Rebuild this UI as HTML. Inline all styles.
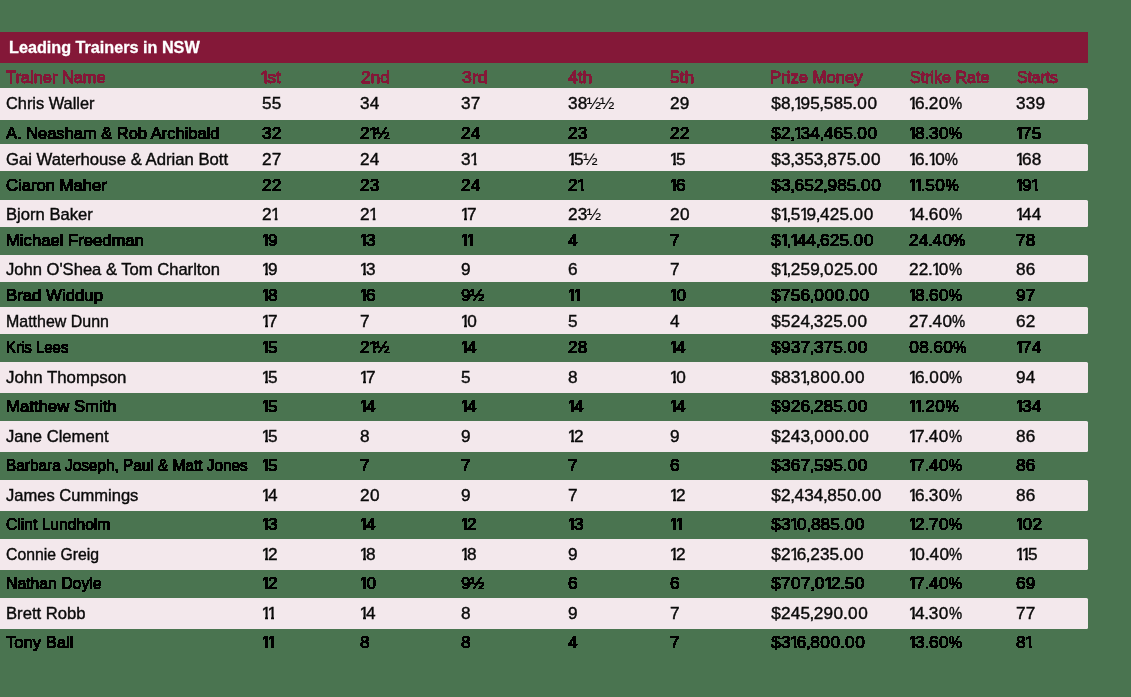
<!DOCTYPE html>
<html><head><meta charset="utf-8"><title>Leading Trainers in NSW</title>
<style>
html,body{margin:0;padding:0;}
body{width:1131px;height:697px;background:#4a7450;position:relative;overflow:hidden;font-family:"Liberation Sans",sans-serif;}
.bar{position:absolute;left:0;top:32px;width:1088px;height:31px;background:#841838;}
.title{position:absolute;left:8.6px;will-change:transform;top:32px;height:31px;line-height:31px;color:#fff;font-weight:bold;font-size:16.2px;-webkit-text-stroke:0.3px #fff;white-space:nowrap;}
.p{position:absolute;left:0;width:1088px;background:#f3e8ec;border-radius:0 1.5px 1.5px 0;}
.t{position:absolute;white-space:nowrap;font-size:16.4px;line-height:20px;height:20px;color:#0a0a0a;-webkit-text-stroke:0.4px #0a0a0a;will-change:transform;}
#thr .t{will-change:auto;}
.t i{display:inline-block;font-style:normal;}
.t i b{display:inline-block;font-weight:inherit;transform:scaleX(0.86);}
.t i u{display:inline-block;text-decoration:none;clip-path:polygon(0 0,0.384em 0,0.384em 20px,0.213em 20px,0.213em 10.8px,0 10.8px);}
.h{color:#841838;-webkit-text-stroke:1.0px #841838;}
.g{color:#000;-webkit-text-stroke:1.0px #000;}
.t em{font-style:normal;-webkit-text-stroke:0.1px #0a0a0a;}
.s{display:inline-block;transform-origin:0 50%;}
#thr{position:absolute;left:0;top:0;width:1131px;height:697px;filter:url(#f);}
</style></head><body>
<div class="bar"></div><div class="title">Leading Trainers in NSW</div>
<div class="p" style="top:88px;height:32px"></div>
<div class="p" style="top:144px;height:27px"></div>
<div class="p" style="top:200px;height:27px"></div>
<div class="p" style="top:255px;height:27px"></div>
<div class="p" style="top:307px;height:27px"></div>
<div class="p" style="top:362px;height:31px"></div>
<div class="p" style="top:421px;height:31px"></div>
<div class="p" style="top:480px;height:31px"></div>
<div class="p" style="top:539px;height:31px"></div>
<div class="p" style="top:598px;height:31px"></div>
<div class="t" id="c0_0" style="left:6.00px;top:93px"><span class="s" style="transform:scaleX(0.9978)">Chris Waller</span></div>
<div class="t" id="c0_1" style="left:262.00px;top:93px"><span class="s" style="transform:scaleX(1.0500)"><i style="margin:0 0.06px 0 0.06px">5</i><i style="margin:0 0.06px 0 0.06px">5</i></span></div>
<div class="t" id="c0_2" style="left:360.00px;top:93px"><span class="s" style="transform:scaleX(1.0500)"><i style="margin:0 0.06px 0 0.06px">3</i><i style="margin:0 0.06px 0 0.06px">4</i></span></div>
<div class="t" id="c0_3" style="left:461.00px;top:93px"><span class="s" style="transform:scaleX(1.0500)"><i style="margin:0 0.06px 0 0.06px">3</i><i style="margin:0 0.06px 0 0.06px">7</i></span></div>
<div class="t" id="c0_4" style="left:568.00px;top:93px"><span class="s" style="transform:scaleX(1.0500)"><i style="margin:0 0.06px 0 0.06px">3</i><i style="margin:0 0.06px 0 0.06px">8</i><i style="margin:0 -0.55px 0 -0.55px"><em>½</em></i><i style="margin:0 -0.55px 0 -0.55px"><em>½</em></i></span></div>
<div class="t" id="c0_5" style="left:670.00px;top:93px"><span class="s" style="transform:scaleX(1.0500)"><i style="margin:0 0.06px 0 0.06px">2</i><i style="margin:0 0.06px 0 0.06px">9</i></span></div>
<div class="t" id="c0_6" style="left:771.00px;top:93px"><span class="s" style="transform:scaleX(1.0500)"><i style="margin:0 0.20px 0 0.20px">$</i><i style="margin:0 0.06px 0 0.06px">8</i><i style="margin:0 -0.47px 0 -0.47px">,</i><i style="margin:0 -2.81px 0 -0.60px"><u>1</u></i><i style="margin:0 0.06px 0 0.06px">9</i><i style="margin:0 0.06px 0 0.06px">5</i><i style="margin:0 -0.47px 0 -0.47px">,</i><i style="margin:0 0.06px 0 0.06px">5</i><i style="margin:0 0.06px 0 0.06px">8</i><i style="margin:0 0.06px 0 0.06px">5</i><i style="margin:0 -0.33px 0 -0.33px">.</i><i style="margin:0 0.34px 0 0.34px">0</i><i style="margin:0 0.34px 0 0.34px">0</i></span></div>
<div class="t" id="c0_7" style="left:909.00px;top:93px"><span class="s" style="transform:scaleX(1.0500)"><i style="margin:0 -2.81px 0 -0.60px"><u>1</u></i><i style="margin:0 0.06px 0 0.06px">6</i><i style="margin:0 -0.33px 0 -0.33px">.</i><i style="margin:0 0.06px 0 0.06px">2</i><i style="margin:0 0.34px 0 0.34px">0</i><i style="margin:0 -1.29px 0 -1.29px"><b>%</b></i></span></div>
<div class="t" id="c0_8" style="left:1016.00px;top:93px"><span class="s" style="transform:scaleX(1.0500)"><i style="margin:0 0.06px 0 0.06px">3</i><i style="margin:0 0.06px 0 0.06px">3</i><i style="margin:0 0.06px 0 0.06px">9</i></span></div>
<div class="t" id="c2_0" style="left:6.00px;top:149px"><span class="s" style="transform:scaleX(1.0185)">Gai Waterhouse &amp; Adrian Bott</span></div>
<div class="t" id="c2_1" style="left:262.00px;top:149px"><span class="s" style="transform:scaleX(1.0500)"><i style="margin:0 0.06px 0 0.06px">2</i><i style="margin:0 0.06px 0 0.06px">7</i></span></div>
<div class="t" id="c2_2" style="left:360.00px;top:149px"><span class="s" style="transform:scaleX(1.0500)"><i style="margin:0 0.06px 0 0.06px">2</i><i style="margin:0 0.06px 0 0.06px">4</i></span></div>
<div class="t" id="c2_3" style="left:461.00px;top:149px"><span class="s" style="transform:scaleX(1.0500)"><i style="margin:0 0.06px 0 0.06px">3</i><i style="margin:0 -2.81px 0 -0.60px"><u>1</u></i></span></div>
<div class="t" id="c2_4" style="left:568.00px;top:149px"><span class="s" style="transform:scaleX(1.0500)"><i style="margin:0 -2.81px 0 -0.60px"><u>1</u></i><i style="margin:0 0.06px 0 0.06px">5</i><i style="margin:0 -0.55px 0 -0.55px"><em>½</em></i></span></div>
<div class="t" id="c2_5" style="left:670.00px;top:149px"><span class="s" style="transform:scaleX(1.0500)"><i style="margin:0 -2.81px 0 -0.60px"><u>1</u></i><i style="margin:0 0.06px 0 0.06px">5</i></span></div>
<div class="t" id="c2_6" style="left:771.00px;top:149px"><span class="s" style="transform:scaleX(1.0500)"><i style="margin:0 0.20px 0 0.20px">$</i><i style="margin:0 0.06px 0 0.06px">3</i><i style="margin:0 -0.47px 0 -0.47px">,</i><i style="margin:0 0.06px 0 0.06px">3</i><i style="margin:0 0.06px 0 0.06px">5</i><i style="margin:0 0.06px 0 0.06px">3</i><i style="margin:0 -0.47px 0 -0.47px">,</i><i style="margin:0 0.06px 0 0.06px">8</i><i style="margin:0 0.06px 0 0.06px">7</i><i style="margin:0 0.06px 0 0.06px">5</i><i style="margin:0 -0.33px 0 -0.33px">.</i><i style="margin:0 0.34px 0 0.34px">0</i><i style="margin:0 0.34px 0 0.34px">0</i></span></div>
<div class="t" id="c2_7" style="left:909.00px;top:149px"><span class="s" style="transform:scaleX(1.0500)"><i style="margin:0 -2.81px 0 -0.60px"><u>1</u></i><i style="margin:0 0.06px 0 0.06px">6</i><i style="margin:0 -0.33px 0 -0.33px">.</i><i style="margin:0 -2.81px 0 -0.60px"><u>1</u></i><i style="margin:0 0.34px 0 0.34px">0</i><i style="margin:0 -1.29px 0 -1.29px"><b>%</b></i></span></div>
<div class="t" id="c2_8" style="left:1016.00px;top:149px"><span class="s" style="transform:scaleX(1.0500)"><i style="margin:0 -2.81px 0 -0.60px"><u>1</u></i><i style="margin:0 0.06px 0 0.06px">6</i><i style="margin:0 0.06px 0 0.06px">8</i></span></div>
<div class="t" id="c4_0" style="left:6.00px;top:204px"><span class="s" style="transform:scaleX(1.0141)">Bjorn Baker</span></div>
<div class="t" id="c4_1" style="left:262.00px;top:204px"><span class="s" style="transform:scaleX(1.0500)"><i style="margin:0 0.06px 0 0.06px">2</i><i style="margin:0 -2.81px 0 -0.60px"><u>1</u></i></span></div>
<div class="t" id="c4_2" style="left:360.00px;top:204px"><span class="s" style="transform:scaleX(1.0500)"><i style="margin:0 0.06px 0 0.06px">2</i><i style="margin:0 -2.81px 0 -0.60px"><u>1</u></i></span></div>
<div class="t" id="c4_3" style="left:461.00px;top:204px"><span class="s" style="transform:scaleX(1.0500)"><i style="margin:0 -2.81px 0 -0.60px"><u>1</u></i><i style="margin:0 0.06px 0 0.06px">7</i></span></div>
<div class="t" id="c4_4" style="left:568.00px;top:204px"><span class="s" style="transform:scaleX(1.0500)"><i style="margin:0 0.06px 0 0.06px">2</i><i style="margin:0 0.06px 0 0.06px">3</i><i style="margin:0 -0.55px 0 -0.55px"><em>½</em></i></span></div>
<div class="t" id="c4_5" style="left:670.00px;top:204px"><span class="s" style="transform:scaleX(1.0500)"><i style="margin:0 0.06px 0 0.06px">2</i><i style="margin:0 0.34px 0 0.34px">0</i></span></div>
<div class="t" id="c4_6" style="left:771.00px;top:204px"><span class="s" style="transform:scaleX(1.0500)"><i style="margin:0 0.20px 0 0.20px">$</i><i style="margin:0 -2.81px 0 -0.60px"><u>1</u></i><i style="margin:0 -0.47px 0 -0.47px">,</i><i style="margin:0 0.06px 0 0.06px">5</i><i style="margin:0 -2.81px 0 -0.60px"><u>1</u></i><i style="margin:0 0.06px 0 0.06px">9</i><i style="margin:0 -0.47px 0 -0.47px">,</i><i style="margin:0 0.06px 0 0.06px">4</i><i style="margin:0 0.06px 0 0.06px">2</i><i style="margin:0 0.06px 0 0.06px">5</i><i style="margin:0 -0.33px 0 -0.33px">.</i><i style="margin:0 0.34px 0 0.34px">0</i><i style="margin:0 0.34px 0 0.34px">0</i></span></div>
<div class="t" id="c4_7" style="left:909.00px;top:204px"><span class="s" style="transform:scaleX(1.0500)"><i style="margin:0 -2.81px 0 -0.60px"><u>1</u></i><i style="margin:0 0.06px 0 0.06px">4</i><i style="margin:0 -0.33px 0 -0.33px">.</i><i style="margin:0 0.06px 0 0.06px">6</i><i style="margin:0 0.34px 0 0.34px">0</i><i style="margin:0 -1.29px 0 -1.29px"><b>%</b></i></span></div>
<div class="t" id="c4_8" style="left:1016.00px;top:204px"><span class="s" style="transform:scaleX(1.0500)"><i style="margin:0 -2.81px 0 -0.60px"><u>1</u></i><i style="margin:0 0.06px 0 0.06px">4</i><i style="margin:0 0.06px 0 0.06px">4</i></span></div>
<div class="t" id="c6_0" style="left:6.00px;top:259px"><span class="s" style="transform:scaleX(1.0113)">John O'Shea &amp; Tom Charlton</span></div>
<div class="t" id="c6_1" style="left:262.00px;top:259px"><span class="s" style="transform:scaleX(1.0500)"><i style="margin:0 -2.81px 0 -0.60px"><u>1</u></i><i style="margin:0 0.06px 0 0.06px">9</i></span></div>
<div class="t" id="c6_2" style="left:360.00px;top:259px"><span class="s" style="transform:scaleX(1.0500)"><i style="margin:0 -2.81px 0 -0.60px"><u>1</u></i><i style="margin:0 0.06px 0 0.06px">3</i></span></div>
<div class="t" id="c6_3" style="left:461.00px;top:259px"><span class="s" style="transform:scaleX(1.0500)"><i style="margin:0 0.06px 0 0.06px">9</i></span></div>
<div class="t" id="c6_4" style="left:568.00px;top:259px"><span class="s" style="transform:scaleX(1.0500)"><i style="margin:0 0.06px 0 0.06px">6</i></span></div>
<div class="t" id="c6_5" style="left:670.00px;top:259px"><span class="s" style="transform:scaleX(1.0500)"><i style="margin:0 0.06px 0 0.06px">7</i></span></div>
<div class="t" id="c6_6" style="left:771.00px;top:259px"><span class="s" style="transform:scaleX(1.0500)"><i style="margin:0 0.20px 0 0.20px">$</i><i style="margin:0 -2.81px 0 -0.60px"><u>1</u></i><i style="margin:0 -0.47px 0 -0.47px">,</i><i style="margin:0 0.06px 0 0.06px">2</i><i style="margin:0 0.06px 0 0.06px">5</i><i style="margin:0 0.06px 0 0.06px">9</i><i style="margin:0 -0.47px 0 -0.47px">,</i><i style="margin:0 0.34px 0 0.34px">0</i><i style="margin:0 0.06px 0 0.06px">2</i><i style="margin:0 0.06px 0 0.06px">5</i><i style="margin:0 -0.33px 0 -0.33px">.</i><i style="margin:0 0.34px 0 0.34px">0</i><i style="margin:0 0.34px 0 0.34px">0</i></span></div>
<div class="t" id="c6_7" style="left:909.00px;top:259px"><span class="s" style="transform:scaleX(1.0500)"><i style="margin:0 0.06px 0 0.06px">2</i><i style="margin:0 0.06px 0 0.06px">2</i><i style="margin:0 -0.33px 0 -0.33px">.</i><i style="margin:0 -2.81px 0 -0.60px"><u>1</u></i><i style="margin:0 0.34px 0 0.34px">0</i><i style="margin:0 -1.29px 0 -1.29px"><b>%</b></i></span></div>
<div class="t" id="c6_8" style="left:1016.00px;top:259px"><span class="s" style="transform:scaleX(1.0500)"><i style="margin:0 0.06px 0 0.06px">8</i><i style="margin:0 0.06px 0 0.06px">6</i></span></div>
<div class="t" id="c8_0" style="left:6.00px;top:311px"><span class="s" style="transform:scaleX(0.9734)">Matthew Dunn</span></div>
<div class="t" id="c8_1" style="left:262.00px;top:311px"><span class="s" style="transform:scaleX(1.0500)"><i style="margin:0 -2.81px 0 -0.60px"><u>1</u></i><i style="margin:0 0.06px 0 0.06px">7</i></span></div>
<div class="t" id="c8_2" style="left:360.00px;top:311px"><span class="s" style="transform:scaleX(1.0500)"><i style="margin:0 0.06px 0 0.06px">7</i></span></div>
<div class="t" id="c8_3" style="left:461.00px;top:311px"><span class="s" style="transform:scaleX(1.0500)"><i style="margin:0 -2.81px 0 -0.60px"><u>1</u></i><i style="margin:0 0.34px 0 0.34px">0</i></span></div>
<div class="t" id="c8_4" style="left:568.00px;top:311px"><span class="s" style="transform:scaleX(1.0500)"><i style="margin:0 0.06px 0 0.06px">5</i></span></div>
<div class="t" id="c8_5" style="left:670.00px;top:311px"><span class="s" style="transform:scaleX(1.0500)"><i style="margin:0 0.06px 0 0.06px">4</i></span></div>
<div class="t" id="c8_6" style="left:771.00px;top:311px"><span class="s" style="transform:scaleX(1.0500)"><i style="margin:0 0.20px 0 0.20px">$</i><i style="margin:0 0.06px 0 0.06px">5</i><i style="margin:0 0.06px 0 0.06px">2</i><i style="margin:0 0.06px 0 0.06px">4</i><i style="margin:0 -0.47px 0 -0.47px">,</i><i style="margin:0 0.06px 0 0.06px">3</i><i style="margin:0 0.06px 0 0.06px">2</i><i style="margin:0 0.06px 0 0.06px">5</i><i style="margin:0 -0.33px 0 -0.33px">.</i><i style="margin:0 0.34px 0 0.34px">0</i><i style="margin:0 0.34px 0 0.34px">0</i></span></div>
<div class="t" id="c8_7" style="left:909.00px;top:311px"><span class="s" style="transform:scaleX(1.0500)"><i style="margin:0 0.06px 0 0.06px">2</i><i style="margin:0 0.06px 0 0.06px">7</i><i style="margin:0 -0.33px 0 -0.33px">.</i><i style="margin:0 0.06px 0 0.06px">4</i><i style="margin:0 0.34px 0 0.34px">0</i><i style="margin:0 -1.29px 0 -1.29px"><b>%</b></i></span></div>
<div class="t" id="c8_8" style="left:1016.00px;top:311px"><span class="s" style="transform:scaleX(1.0500)"><i style="margin:0 0.06px 0 0.06px">6</i><i style="margin:0 0.06px 0 0.06px">2</i></span></div>
<div class="t" id="c10_0" style="left:6.00px;top:367px"><span class="s" style="transform:scaleX(1.0276)">John Thompson</span></div>
<div class="t" id="c10_1" style="left:262.00px;top:367px"><span class="s" style="transform:scaleX(1.0500)"><i style="margin:0 -2.81px 0 -0.60px"><u>1</u></i><i style="margin:0 0.06px 0 0.06px">5</i></span></div>
<div class="t" id="c10_2" style="left:360.00px;top:367px"><span class="s" style="transform:scaleX(1.0500)"><i style="margin:0 -2.81px 0 -0.60px"><u>1</u></i><i style="margin:0 0.06px 0 0.06px">7</i></span></div>
<div class="t" id="c10_3" style="left:461.00px;top:367px"><span class="s" style="transform:scaleX(1.0500)"><i style="margin:0 0.06px 0 0.06px">5</i></span></div>
<div class="t" id="c10_4" style="left:568.00px;top:367px"><span class="s" style="transform:scaleX(1.0500)"><i style="margin:0 0.06px 0 0.06px">8</i></span></div>
<div class="t" id="c10_5" style="left:670.00px;top:367px"><span class="s" style="transform:scaleX(1.0500)"><i style="margin:0 -2.81px 0 -0.60px"><u>1</u></i><i style="margin:0 0.34px 0 0.34px">0</i></span></div>
<div class="t" id="c10_6" style="left:771.00px;top:367px"><span class="s" style="transform:scaleX(1.0500)"><i style="margin:0 0.20px 0 0.20px">$</i><i style="margin:0 0.06px 0 0.06px">8</i><i style="margin:0 0.06px 0 0.06px">3</i><i style="margin:0 -2.81px 0 -0.60px"><u>1</u></i><i style="margin:0 -0.47px 0 -0.47px">,</i><i style="margin:0 0.06px 0 0.06px">8</i><i style="margin:0 0.34px 0 0.34px">0</i><i style="margin:0 0.34px 0 0.34px">0</i><i style="margin:0 -0.33px 0 -0.33px">.</i><i style="margin:0 0.34px 0 0.34px">0</i><i style="margin:0 0.34px 0 0.34px">0</i></span></div>
<div class="t" id="c10_7" style="left:909.00px;top:367px"><span class="s" style="transform:scaleX(1.0500)"><i style="margin:0 -2.81px 0 -0.60px"><u>1</u></i><i style="margin:0 0.06px 0 0.06px">6</i><i style="margin:0 -0.33px 0 -0.33px">.</i><i style="margin:0 0.34px 0 0.34px">0</i><i style="margin:0 0.34px 0 0.34px">0</i><i style="margin:0 -1.29px 0 -1.29px"><b>%</b></i></span></div>
<div class="t" id="c10_8" style="left:1016.00px;top:367px"><span class="s" style="transform:scaleX(1.0500)"><i style="margin:0 0.06px 0 0.06px">9</i><i style="margin:0 0.06px 0 0.06px">4</i></span></div>
<div class="t" id="c12_0" style="left:6.00px;top:426px"><span class="s" style="transform:scaleX(1.0139)">Jane Clement</span></div>
<div class="t" id="c12_1" style="left:262.00px;top:426px"><span class="s" style="transform:scaleX(1.0500)"><i style="margin:0 -2.81px 0 -0.60px"><u>1</u></i><i style="margin:0 0.06px 0 0.06px">5</i></span></div>
<div class="t" id="c12_2" style="left:360.00px;top:426px"><span class="s" style="transform:scaleX(1.0500)"><i style="margin:0 0.06px 0 0.06px">8</i></span></div>
<div class="t" id="c12_3" style="left:461.00px;top:426px"><span class="s" style="transform:scaleX(1.0500)"><i style="margin:0 0.06px 0 0.06px">9</i></span></div>
<div class="t" id="c12_4" style="left:568.00px;top:426px"><span class="s" style="transform:scaleX(1.0500)"><i style="margin:0 -2.81px 0 -0.60px"><u>1</u></i><i style="margin:0 0.06px 0 0.06px">2</i></span></div>
<div class="t" id="c12_5" style="left:670.00px;top:426px"><span class="s" style="transform:scaleX(1.0500)"><i style="margin:0 0.06px 0 0.06px">9</i></span></div>
<div class="t" id="c12_6" style="left:771.00px;top:426px"><span class="s" style="transform:scaleX(1.0500)"><i style="margin:0 0.20px 0 0.20px">$</i><i style="margin:0 0.06px 0 0.06px">2</i><i style="margin:0 0.06px 0 0.06px">4</i><i style="margin:0 0.06px 0 0.06px">3</i><i style="margin:0 -0.47px 0 -0.47px">,</i><i style="margin:0 0.34px 0 0.34px">0</i><i style="margin:0 0.34px 0 0.34px">0</i><i style="margin:0 0.34px 0 0.34px">0</i><i style="margin:0 -0.33px 0 -0.33px">.</i><i style="margin:0 0.34px 0 0.34px">0</i><i style="margin:0 0.34px 0 0.34px">0</i></span></div>
<div class="t" id="c12_7" style="left:909.00px;top:426px"><span class="s" style="transform:scaleX(1.0500)"><i style="margin:0 -2.81px 0 -0.60px"><u>1</u></i><i style="margin:0 0.06px 0 0.06px">7</i><i style="margin:0 -0.33px 0 -0.33px">.</i><i style="margin:0 0.06px 0 0.06px">4</i><i style="margin:0 0.34px 0 0.34px">0</i><i style="margin:0 -1.29px 0 -1.29px"><b>%</b></i></span></div>
<div class="t" id="c12_8" style="left:1016.00px;top:426px"><span class="s" style="transform:scaleX(1.0500)"><i style="margin:0 0.06px 0 0.06px">8</i><i style="margin:0 0.06px 0 0.06px">6</i></span></div>
<div class="t" id="c14_0" style="left:6.00px;top:485px"><span class="s" style="transform:scaleX(1.0092)">James Cummings</span></div>
<div class="t" id="c14_1" style="left:262.00px;top:485px"><span class="s" style="transform:scaleX(1.0500)"><i style="margin:0 -2.81px 0 -0.60px"><u>1</u></i><i style="margin:0 0.06px 0 0.06px">4</i></span></div>
<div class="t" id="c14_2" style="left:360.00px;top:485px"><span class="s" style="transform:scaleX(1.0500)"><i style="margin:0 0.06px 0 0.06px">2</i><i style="margin:0 0.34px 0 0.34px">0</i></span></div>
<div class="t" id="c14_3" style="left:461.00px;top:485px"><span class="s" style="transform:scaleX(1.0500)"><i style="margin:0 0.06px 0 0.06px">9</i></span></div>
<div class="t" id="c14_4" style="left:568.00px;top:485px"><span class="s" style="transform:scaleX(1.0500)"><i style="margin:0 0.06px 0 0.06px">7</i></span></div>
<div class="t" id="c14_5" style="left:670.00px;top:485px"><span class="s" style="transform:scaleX(1.0500)"><i style="margin:0 -2.81px 0 -0.60px"><u>1</u></i><i style="margin:0 0.06px 0 0.06px">2</i></span></div>
<div class="t" id="c14_6" style="left:771.00px;top:485px"><span class="s" style="transform:scaleX(1.0500)"><i style="margin:0 0.20px 0 0.20px">$</i><i style="margin:0 0.06px 0 0.06px">2</i><i style="margin:0 -0.47px 0 -0.47px">,</i><i style="margin:0 0.06px 0 0.06px">4</i><i style="margin:0 0.06px 0 0.06px">3</i><i style="margin:0 0.06px 0 0.06px">4</i><i style="margin:0 -0.47px 0 -0.47px">,</i><i style="margin:0 0.06px 0 0.06px">8</i><i style="margin:0 0.06px 0 0.06px">5</i><i style="margin:0 0.34px 0 0.34px">0</i><i style="margin:0 -0.33px 0 -0.33px">.</i><i style="margin:0 0.34px 0 0.34px">0</i><i style="margin:0 0.34px 0 0.34px">0</i></span></div>
<div class="t" id="c14_7" style="left:909.00px;top:485px"><span class="s" style="transform:scaleX(1.0500)"><i style="margin:0 -2.81px 0 -0.60px"><u>1</u></i><i style="margin:0 0.06px 0 0.06px">6</i><i style="margin:0 -0.33px 0 -0.33px">.</i><i style="margin:0 0.06px 0 0.06px">3</i><i style="margin:0 0.34px 0 0.34px">0</i><i style="margin:0 -1.29px 0 -1.29px"><b>%</b></i></span></div>
<div class="t" id="c14_8" style="left:1016.00px;top:485px"><span class="s" style="transform:scaleX(1.0500)"><i style="margin:0 0.06px 0 0.06px">8</i><i style="margin:0 0.06px 0 0.06px">6</i></span></div>
<div class="t" id="c16_0" style="left:6.00px;top:544px"><span class="s" style="transform:scaleX(0.9625)">Connie Greig</span></div>
<div class="t" id="c16_1" style="left:262.00px;top:544px"><span class="s" style="transform:scaleX(1.0500)"><i style="margin:0 -2.81px 0 -0.60px"><u>1</u></i><i style="margin:0 0.06px 0 0.06px">2</i></span></div>
<div class="t" id="c16_2" style="left:360.00px;top:544px"><span class="s" style="transform:scaleX(1.0500)"><i style="margin:0 -2.81px 0 -0.60px"><u>1</u></i><i style="margin:0 0.06px 0 0.06px">8</i></span></div>
<div class="t" id="c16_3" style="left:461.00px;top:544px"><span class="s" style="transform:scaleX(1.0500)"><i style="margin:0 -2.81px 0 -0.60px"><u>1</u></i><i style="margin:0 0.06px 0 0.06px">8</i></span></div>
<div class="t" id="c16_4" style="left:568.00px;top:544px"><span class="s" style="transform:scaleX(1.0500)"><i style="margin:0 0.06px 0 0.06px">9</i></span></div>
<div class="t" id="c16_5" style="left:670.00px;top:544px"><span class="s" style="transform:scaleX(1.0500)"><i style="margin:0 -2.81px 0 -0.60px"><u>1</u></i><i style="margin:0 0.06px 0 0.06px">2</i></span></div>
<div class="t" id="c16_6" style="left:771.00px;top:544px"><span class="s" style="transform:scaleX(1.0500)"><i style="margin:0 0.20px 0 0.20px">$</i><i style="margin:0 0.06px 0 0.06px">2</i><i style="margin:0 -2.81px 0 -0.60px"><u>1</u></i><i style="margin:0 0.06px 0 0.06px">6</i><i style="margin:0 -0.47px 0 -0.47px">,</i><i style="margin:0 0.06px 0 0.06px">2</i><i style="margin:0 0.06px 0 0.06px">3</i><i style="margin:0 0.06px 0 0.06px">5</i><i style="margin:0 -0.33px 0 -0.33px">.</i><i style="margin:0 0.34px 0 0.34px">0</i><i style="margin:0 0.34px 0 0.34px">0</i></span></div>
<div class="t" id="c16_7" style="left:909.00px;top:544px"><span class="s" style="transform:scaleX(1.0500)"><i style="margin:0 -2.81px 0 -0.60px"><u>1</u></i><i style="margin:0 0.34px 0 0.34px">0</i><i style="margin:0 -0.33px 0 -0.33px">.</i><i style="margin:0 0.06px 0 0.06px">4</i><i style="margin:0 0.34px 0 0.34px">0</i><i style="margin:0 -1.29px 0 -1.29px"><b>%</b></i></span></div>
<div class="t" id="c16_8" style="left:1016.00px;top:544px"><span class="s" style="transform:scaleX(1.0500)"><i style="margin:0 -2.81px 0 -0.60px"><u>1</u></i><i style="margin:0 -2.81px 0 -0.60px"><u>1</u></i><i style="margin:0 0.06px 0 0.06px">5</i></span></div>
<div class="t" id="c18_0" style="left:6.00px;top:603px"><span class="s" style="transform:scaleX(1.0156)">Brett Robb</span></div>
<div class="t" id="c18_1" style="left:262.00px;top:603px"><span class="s" style="transform:scaleX(1.0500)"><i style="margin:0 -2.81px 0 -0.60px"><u>1</u></i><i style="margin:0 -2.81px 0 -0.60px"><u>1</u></i></span></div>
<div class="t" id="c18_2" style="left:360.00px;top:603px"><span class="s" style="transform:scaleX(1.0500)"><i style="margin:0 -2.81px 0 -0.60px"><u>1</u></i><i style="margin:0 0.06px 0 0.06px">4</i></span></div>
<div class="t" id="c18_3" style="left:461.00px;top:603px"><span class="s" style="transform:scaleX(1.0500)"><i style="margin:0 0.06px 0 0.06px">8</i></span></div>
<div class="t" id="c18_4" style="left:568.00px;top:603px"><span class="s" style="transform:scaleX(1.0500)"><i style="margin:0 0.06px 0 0.06px">9</i></span></div>
<div class="t" id="c18_5" style="left:670.00px;top:603px"><span class="s" style="transform:scaleX(1.0500)"><i style="margin:0 0.06px 0 0.06px">7</i></span></div>
<div class="t" id="c18_6" style="left:771.00px;top:603px"><span class="s" style="transform:scaleX(1.0500)"><i style="margin:0 0.20px 0 0.20px">$</i><i style="margin:0 0.06px 0 0.06px">2</i><i style="margin:0 0.06px 0 0.06px">4</i><i style="margin:0 0.06px 0 0.06px">5</i><i style="margin:0 -0.47px 0 -0.47px">,</i><i style="margin:0 0.06px 0 0.06px">2</i><i style="margin:0 0.06px 0 0.06px">9</i><i style="margin:0 0.34px 0 0.34px">0</i><i style="margin:0 -0.33px 0 -0.33px">.</i><i style="margin:0 0.34px 0 0.34px">0</i><i style="margin:0 0.34px 0 0.34px">0</i></span></div>
<div class="t" id="c18_7" style="left:909.00px;top:603px"><span class="s" style="transform:scaleX(1.0500)"><i style="margin:0 -2.81px 0 -0.60px"><u>1</u></i><i style="margin:0 0.06px 0 0.06px">4</i><i style="margin:0 -0.33px 0 -0.33px">.</i><i style="margin:0 0.06px 0 0.06px">3</i><i style="margin:0 0.34px 0 0.34px">0</i><i style="margin:0 -1.29px 0 -1.29px"><b>%</b></i></span></div>
<div class="t" id="c18_8" style="left:1016.00px;top:603px"><span class="s" style="transform:scaleX(1.0500)"><i style="margin:0 0.06px 0 0.06px">7</i><i style="margin:0 0.06px 0 0.06px">7</i></span></div>
<svg width="0" height="0" style="position:absolute"><filter id="f" x="0" y="0" width="100%" height="100%" color-interpolation-filters="sRGB"><feComponentTransfer><feFuncA type="discrete" tableValues="0 1"/></feComponentTransfer></filter></svg>
<div id="thr">
<div class="t h" id="ch_0" style="left:6.00px;top:67px"><span class="s" style="font-size:15.58px;transform:scaleX(1.0528)">Trainer Name</span></div>
<div class="t h" id="ch_1" style="left:260.70px;top:67px"><span class="s" style="font-size:15.58px;transform:scaleX(1.1368)"><i style="margin:0 -2.6px 0 -0.6px"><u>1</u></i>st</span></div>
<div class="t h" id="ch_2" style="left:360.60px;top:67px"><span class="s" style="font-size:15.58px;transform:scaleX(1.1079)">2nd</span></div>
<div class="t h" id="ch_3" style="left:461.90px;top:67px"><span class="s" style="font-size:15.58px;transform:scaleX(1.1403)">3rd</span></div>
<div class="t h" id="ch_4" style="left:568.00px;top:67px"><span class="s" style="font-size:15.58px;transform:scaleX(1.1203)">4th</span></div>
<div class="t h" id="ch_5" style="left:670.00px;top:67px"><span class="s" style="font-size:15.58px;transform:scaleX(1.1107)">5th</span></div>
<div class="t h" id="ch_6" style="left:770.48px;top:67px"><span class="s" style="font-size:15.58px;transform:scaleX(1.0702)">Prize Money</span></div>
<div class="t h" id="ch_7" style="left:909.70px;top:67px"><span class="s" style="font-size:15.58px;transform:scaleX(1.0305)">Strike Rate</span></div>
<div class="t h" id="ch_8" style="left:1016.70px;top:67px"><span class="s" style="font-size:15.58px;transform:scaleX(1.0064)">Starts</span></div>
<div class="t g" id="c1_0" style="left:6.00px;top:123px"><span class="s" style="font-size:15.58px;transform:scaleX(1.0577)">A. Neasham &amp; Rob Archibald</span></div>
<div class="t g" id="c1_1" style="left:262.00px;top:123px"><span class="s" style="font-size:15.58px;transform:scaleX(1.1053)"><i style="margin:0 0.06px 0 0.06px">3</i><i style="margin:0 0.06px 0 0.06px">2</i></span></div>
<div class="t g" id="c1_2" style="left:360.00px;top:123px"><span class="s" style="font-size:15.58px;transform:scaleX(1.1053)"><i style="margin:0 0.06px 0 0.06px">2</i><i style="margin:0 -2.67px 0 -0.57px"><u>1</u></i><i style="margin:0 -0.53px 0 -0.53px">½</i></span></div>
<div class="t g" id="c1_3" style="left:461.00px;top:123px"><span class="s" style="font-size:15.58px;transform:scaleX(1.1053)"><i style="margin:0 0.06px 0 0.06px">2</i><i style="margin:0 0.06px 0 0.06px">4</i></span></div>
<div class="t g" id="c1_4" style="left:568.00px;top:123px"><span class="s" style="font-size:15.58px;transform:scaleX(1.1053)"><i style="margin:0 0.06px 0 0.06px">2</i><i style="margin:0 0.06px 0 0.06px">3</i></span></div>
<div class="t g" id="c1_5" style="left:670.00px;top:123px"><span class="s" style="font-size:15.58px;transform:scaleX(1.1053)"><i style="margin:0 0.06px 0 0.06px">2</i><i style="margin:0 0.06px 0 0.06px">2</i></span></div>
<div class="t g" id="c1_6" style="left:771.00px;top:123px"><span class="s" style="font-size:15.58px;transform:scaleX(1.1053)"><i style="margin:0 0.19px 0 0.19px">$</i><i style="margin:0 0.06px 0 0.06px">2</i><i style="margin:0 -0.45px 0 -0.45px">,</i><i style="margin:0 -2.67px 0 -0.57px"><u>1</u></i><i style="margin:0 0.06px 0 0.06px">3</i><i style="margin:0 0.06px 0 0.06px">4</i><i style="margin:0 -0.45px 0 -0.45px">,</i><i style="margin:0 0.06px 0 0.06px">4</i><i style="margin:0 0.06px 0 0.06px">6</i><i style="margin:0 0.06px 0 0.06px">5</i><i style="margin:0 -0.31px 0 -0.31px">.</i><i style="margin:0 0.33px 0 0.33px">0</i><i style="margin:0 0.33px 0 0.33px">0</i></span></div>
<div class="t g" id="c1_7" style="left:909.00px;top:123px"><span class="s" style="font-size:15.58px;transform:scaleX(1.1053)"><i style="margin:0 -2.67px 0 -0.57px"><u>1</u></i><i style="margin:0 0.06px 0 0.06px">8</i><i style="margin:0 -0.31px 0 -0.31px">.</i><i style="margin:0 0.06px 0 0.06px">3</i><i style="margin:0 0.33px 0 0.33px">0</i><i style="margin:0 -1.23px 0 -1.23px"><b>%</b></i></span></div>
<div class="t g" id="c1_8" style="left:1016.00px;top:123px"><span class="s" style="font-size:15.58px;transform:scaleX(1.1053)"><i style="margin:0 -2.67px 0 -0.57px"><u>1</u></i><i style="margin:0 0.06px 0 0.06px">7</i><i style="margin:0 0.06px 0 0.06px">5</i></span></div>
<div class="t g" id="c3_0" style="left:6.00px;top:175px"><span class="s" style="font-size:15.58px;transform:scaleX(1.0675)">Ciaron Maher</span></div>
<div class="t g" id="c3_1" style="left:262.00px;top:175px"><span class="s" style="font-size:15.58px;transform:scaleX(1.1053)"><i style="margin:0 0.06px 0 0.06px">2</i><i style="margin:0 0.06px 0 0.06px">2</i></span></div>
<div class="t g" id="c3_2" style="left:360.00px;top:175px"><span class="s" style="font-size:15.58px;transform:scaleX(1.1053)"><i style="margin:0 0.06px 0 0.06px">2</i><i style="margin:0 0.06px 0 0.06px">3</i></span></div>
<div class="t g" id="c3_3" style="left:461.00px;top:175px"><span class="s" style="font-size:15.58px;transform:scaleX(1.1053)"><i style="margin:0 0.06px 0 0.06px">2</i><i style="margin:0 0.06px 0 0.06px">4</i></span></div>
<div class="t g" id="c3_4" style="left:568.00px;top:175px"><span class="s" style="font-size:15.58px;transform:scaleX(1.1053)"><i style="margin:0 0.06px 0 0.06px">2</i><i style="margin:0 -2.67px 0 -0.57px"><u>1</u></i></span></div>
<div class="t g" id="c3_5" style="left:670.00px;top:175px"><span class="s" style="font-size:15.58px;transform:scaleX(1.1053)"><i style="margin:0 -2.67px 0 -0.57px"><u>1</u></i><i style="margin:0 0.06px 0 0.06px">6</i></span></div>
<div class="t g" id="c3_6" style="left:771.00px;top:175px"><span class="s" style="font-size:15.58px;transform:scaleX(1.1053)"><i style="margin:0 0.19px 0 0.19px">$</i><i style="margin:0 0.06px 0 0.06px">3</i><i style="margin:0 -0.45px 0 -0.45px">,</i><i style="margin:0 0.06px 0 0.06px">6</i><i style="margin:0 0.06px 0 0.06px">5</i><i style="margin:0 0.06px 0 0.06px">2</i><i style="margin:0 -0.45px 0 -0.45px">,</i><i style="margin:0 0.06px 0 0.06px">9</i><i style="margin:0 0.06px 0 0.06px">8</i><i style="margin:0 0.06px 0 0.06px">5</i><i style="margin:0 -0.31px 0 -0.31px">.</i><i style="margin:0 0.33px 0 0.33px">0</i><i style="margin:0 0.33px 0 0.33px">0</i></span></div>
<div class="t g" id="c3_7" style="left:909.00px;top:175px"><span class="s" style="font-size:15.58px;transform:scaleX(1.1053)"><i style="margin:0 -2.67px 0 -0.57px"><u>1</u></i><i style="margin:0 -2.67px 0 -0.57px"><u>1</u></i><i style="margin:0 -0.31px 0 -0.31px">.</i><i style="margin:0 0.06px 0 0.06px">5</i><i style="margin:0 0.33px 0 0.33px">0</i><i style="margin:0 -1.23px 0 -1.23px"><b>%</b></i></span></div>
<div class="t g" id="c3_8" style="left:1016.00px;top:175px"><span class="s" style="font-size:15.58px;transform:scaleX(1.1053)"><i style="margin:0 -2.67px 0 -0.57px"><u>1</u></i><i style="margin:0 0.06px 0 0.06px">9</i><i style="margin:0 -2.67px 0 -0.57px"><u>1</u></i></span></div>
<div class="t g" id="c5_0" style="left:6.00px;top:230px"><span class="s" style="font-size:15.58px;transform:scaleX(1.0682)">Michael Freedman</span></div>
<div class="t g" id="c5_1" style="left:262.00px;top:230px"><span class="s" style="font-size:15.58px;transform:scaleX(1.1053)"><i style="margin:0 -2.67px 0 -0.57px"><u>1</u></i><i style="margin:0 0.06px 0 0.06px">9</i></span></div>
<div class="t g" id="c5_2" style="left:360.00px;top:230px"><span class="s" style="font-size:15.58px;transform:scaleX(1.1053)"><i style="margin:0 -2.67px 0 -0.57px"><u>1</u></i><i style="margin:0 0.06px 0 0.06px">3</i></span></div>
<div class="t g" id="c5_3" style="left:461.00px;top:230px"><span class="s" style="font-size:15.58px;transform:scaleX(1.1053)"><i style="margin:0 -2.67px 0 -0.57px"><u>1</u></i><i style="margin:0 -2.67px 0 -0.57px"><u>1</u></i></span></div>
<div class="t g" id="c5_4" style="left:568.00px;top:230px"><span class="s" style="font-size:15.58px;transform:scaleX(1.1053)"><i style="margin:0 0.06px 0 0.06px">4</i></span></div>
<div class="t g" id="c5_5" style="left:670.00px;top:230px"><span class="s" style="font-size:15.58px;transform:scaleX(1.1053)"><i style="margin:0 0.06px 0 0.06px">7</i></span></div>
<div class="t g" id="c5_6" style="left:771.00px;top:230px"><span class="s" style="font-size:15.58px;transform:scaleX(1.1053)"><i style="margin:0 0.19px 0 0.19px">$</i><i style="margin:0 -2.67px 0 -0.57px"><u>1</u></i><i style="margin:0 -0.45px 0 -0.45px">,</i><i style="margin:0 -2.67px 0 -0.57px"><u>1</u></i><i style="margin:0 0.06px 0 0.06px">4</i><i style="margin:0 0.06px 0 0.06px">4</i><i style="margin:0 -0.45px 0 -0.45px">,</i><i style="margin:0 0.06px 0 0.06px">6</i><i style="margin:0 0.06px 0 0.06px">2</i><i style="margin:0 0.06px 0 0.06px">5</i><i style="margin:0 -0.31px 0 -0.31px">.</i><i style="margin:0 0.33px 0 0.33px">0</i><i style="margin:0 0.33px 0 0.33px">0</i></span></div>
<div class="t g" id="c5_7" style="left:909.00px;top:230px"><span class="s" style="font-size:15.58px;transform:scaleX(1.1053)"><i style="margin:0 0.06px 0 0.06px">2</i><i style="margin:0 0.06px 0 0.06px">4</i><i style="margin:0 -0.31px 0 -0.31px">.</i><i style="margin:0 0.06px 0 0.06px">4</i><i style="margin:0 0.33px 0 0.33px">0</i><i style="margin:0 -1.23px 0 -1.23px"><b>%</b></i></span></div>
<div class="t g" id="c5_8" style="left:1016.00px;top:230px"><span class="s" style="font-size:15.58px;transform:scaleX(1.1053)"><i style="margin:0 0.06px 0 0.06px">7</i><i style="margin:0 0.06px 0 0.06px">8</i></span></div>
<div class="t g" id="c7_0" style="left:6.00px;top:285px"><span class="s" style="font-size:15.58px;transform:scaleX(1.0772)">Brad Widdup</span></div>
<div class="t g" id="c7_1" style="left:262.00px;top:285px"><span class="s" style="font-size:15.58px;transform:scaleX(1.1053)"><i style="margin:0 -2.67px 0 -0.57px"><u>1</u></i><i style="margin:0 0.06px 0 0.06px">8</i></span></div>
<div class="t g" id="c7_2" style="left:360.00px;top:285px"><span class="s" style="font-size:15.58px;transform:scaleX(1.1053)"><i style="margin:0 -2.67px 0 -0.57px"><u>1</u></i><i style="margin:0 0.06px 0 0.06px">6</i></span></div>
<div class="t g" id="c7_3" style="left:461.00px;top:285px"><span class="s" style="font-size:15.58px;transform:scaleX(1.1053)"><i style="margin:0 0.06px 0 0.06px">9</i><i style="margin:0 -0.53px 0 -0.53px">½</i></span></div>
<div class="t g" id="c7_4" style="left:568.00px;top:285px"><span class="s" style="font-size:15.58px;transform:scaleX(1.1053)"><i style="margin:0 -2.67px 0 -0.57px"><u>1</u></i><i style="margin:0 -2.67px 0 -0.57px"><u>1</u></i></span></div>
<div class="t g" id="c7_5" style="left:670.00px;top:285px"><span class="s" style="font-size:15.58px;transform:scaleX(1.1053)"><i style="margin:0 -2.67px 0 -0.57px"><u>1</u></i><i style="margin:0 0.33px 0 0.33px">0</i></span></div>
<div class="t g" id="c7_6" style="left:771.00px;top:285px"><span class="s" style="font-size:15.58px;transform:scaleX(1.1053)"><i style="margin:0 0.19px 0 0.19px">$</i><i style="margin:0 0.06px 0 0.06px">7</i><i style="margin:0 0.06px 0 0.06px">5</i><i style="margin:0 0.06px 0 0.06px">6</i><i style="margin:0 -0.45px 0 -0.45px">,</i><i style="margin:0 0.33px 0 0.33px">0</i><i style="margin:0 0.33px 0 0.33px">0</i><i style="margin:0 0.33px 0 0.33px">0</i><i style="margin:0 -0.31px 0 -0.31px">.</i><i style="margin:0 0.33px 0 0.33px">0</i><i style="margin:0 0.33px 0 0.33px">0</i></span></div>
<div class="t g" id="c7_7" style="left:909.00px;top:285px"><span class="s" style="font-size:15.58px;transform:scaleX(1.1053)"><i style="margin:0 -2.67px 0 -0.57px"><u>1</u></i><i style="margin:0 0.06px 0 0.06px">8</i><i style="margin:0 -0.31px 0 -0.31px">.</i><i style="margin:0 0.06px 0 0.06px">6</i><i style="margin:0 0.33px 0 0.33px">0</i><i style="margin:0 -1.23px 0 -1.23px"><b>%</b></i></span></div>
<div class="t g" id="c7_8" style="left:1016.00px;top:285px"><span class="s" style="font-size:15.58px;transform:scaleX(1.1053)"><i style="margin:0 0.06px 0 0.06px">9</i><i style="margin:0 0.06px 0 0.06px">7</i></span></div>
<div class="t g" id="c9_0" style="left:6.00px;top:337px"><span class="s" style="font-size:15.58px;transform:scaleX(0.9613)">Kris Lees</span></div>
<div class="t g" id="c9_1" style="left:262.00px;top:337px"><span class="s" style="font-size:15.58px;transform:scaleX(1.1053)"><i style="margin:0 -2.67px 0 -0.57px"><u>1</u></i><i style="margin:0 0.06px 0 0.06px">5</i></span></div>
<div class="t g" id="c9_2" style="left:360.00px;top:337px"><span class="s" style="font-size:15.58px;transform:scaleX(1.1053)"><i style="margin:0 0.06px 0 0.06px">2</i><i style="margin:0 -2.67px 0 -0.57px"><u>1</u></i><i style="margin:0 -0.53px 0 -0.53px">½</i></span></div>
<div class="t g" id="c9_3" style="left:461.00px;top:337px"><span class="s" style="font-size:15.58px;transform:scaleX(1.1053)"><i style="margin:0 -2.67px 0 -0.57px"><u>1</u></i><i style="margin:0 0.06px 0 0.06px">4</i></span></div>
<div class="t g" id="c9_4" style="left:568.00px;top:337px"><span class="s" style="font-size:15.58px;transform:scaleX(1.1053)"><i style="margin:0 0.06px 0 0.06px">2</i><i style="margin:0 0.06px 0 0.06px">8</i></span></div>
<div class="t g" id="c9_5" style="left:670.00px;top:337px"><span class="s" style="font-size:15.58px;transform:scaleX(1.1053)"><i style="margin:0 -2.67px 0 -0.57px"><u>1</u></i><i style="margin:0 0.06px 0 0.06px">4</i></span></div>
<div class="t g" id="c9_6" style="left:771.00px;top:337px"><span class="s" style="font-size:15.58px;transform:scaleX(1.1053)"><i style="margin:0 0.19px 0 0.19px">$</i><i style="margin:0 0.06px 0 0.06px">9</i><i style="margin:0 0.06px 0 0.06px">3</i><i style="margin:0 0.06px 0 0.06px">7</i><i style="margin:0 -0.45px 0 -0.45px">,</i><i style="margin:0 0.06px 0 0.06px">3</i><i style="margin:0 0.06px 0 0.06px">7</i><i style="margin:0 0.06px 0 0.06px">5</i><i style="margin:0 -0.31px 0 -0.31px">.</i><i style="margin:0 0.33px 0 0.33px">0</i><i style="margin:0 0.33px 0 0.33px">0</i></span></div>
<div class="t g" id="c9_7" style="left:909.00px;top:337px"><span class="s" style="font-size:15.58px;transform:scaleX(1.1053)"><i style="margin:0 0.33px 0 0.33px">0</i><i style="margin:0 0.06px 0 0.06px">8</i><i style="margin:0 -0.31px 0 -0.31px">.</i><i style="margin:0 0.06px 0 0.06px">6</i><i style="margin:0 0.33px 0 0.33px">0</i><i style="margin:0 -1.23px 0 -1.23px"><b>%</b></i></span></div>
<div class="t g" id="c9_8" style="left:1016.00px;top:337px"><span class="s" style="font-size:15.58px;transform:scaleX(1.1053)"><i style="margin:0 -2.67px 0 -0.57px"><u>1</u></i><i style="margin:0 0.06px 0 0.06px">7</i><i style="margin:0 0.06px 0 0.06px">4</i></span></div>
<div class="t g" id="c11_0" style="left:6.00px;top:396px"><span class="s" style="font-size:15.58px;transform:scaleX(1.0741)">Matthew Smith</span></div>
<div class="t g" id="c11_1" style="left:262.00px;top:396px"><span class="s" style="font-size:15.58px;transform:scaleX(1.1053)"><i style="margin:0 -2.67px 0 -0.57px"><u>1</u></i><i style="margin:0 0.06px 0 0.06px">5</i></span></div>
<div class="t g" id="c11_2" style="left:360.00px;top:396px"><span class="s" style="font-size:15.58px;transform:scaleX(1.1053)"><i style="margin:0 -2.67px 0 -0.57px"><u>1</u></i><i style="margin:0 0.06px 0 0.06px">4</i></span></div>
<div class="t g" id="c11_3" style="left:461.00px;top:396px"><span class="s" style="font-size:15.58px;transform:scaleX(1.1053)"><i style="margin:0 -2.67px 0 -0.57px"><u>1</u></i><i style="margin:0 0.06px 0 0.06px">4</i></span></div>
<div class="t g" id="c11_4" style="left:568.00px;top:396px"><span class="s" style="font-size:15.58px;transform:scaleX(1.1053)"><i style="margin:0 -2.67px 0 -0.57px"><u>1</u></i><i style="margin:0 0.06px 0 0.06px">4</i></span></div>
<div class="t g" id="c11_5" style="left:670.00px;top:396px"><span class="s" style="font-size:15.58px;transform:scaleX(1.1053)"><i style="margin:0 -2.67px 0 -0.57px"><u>1</u></i><i style="margin:0 0.06px 0 0.06px">4</i></span></div>
<div class="t g" id="c11_6" style="left:771.00px;top:396px"><span class="s" style="font-size:15.58px;transform:scaleX(1.1053)"><i style="margin:0 0.19px 0 0.19px">$</i><i style="margin:0 0.06px 0 0.06px">9</i><i style="margin:0 0.06px 0 0.06px">2</i><i style="margin:0 0.06px 0 0.06px">6</i><i style="margin:0 -0.45px 0 -0.45px">,</i><i style="margin:0 0.06px 0 0.06px">2</i><i style="margin:0 0.06px 0 0.06px">8</i><i style="margin:0 0.06px 0 0.06px">5</i><i style="margin:0 -0.31px 0 -0.31px">.</i><i style="margin:0 0.33px 0 0.33px">0</i><i style="margin:0 0.33px 0 0.33px">0</i></span></div>
<div class="t g" id="c11_7" style="left:909.00px;top:396px"><span class="s" style="font-size:15.58px;transform:scaleX(1.1053)"><i style="margin:0 -2.67px 0 -0.57px"><u>1</u></i><i style="margin:0 -2.67px 0 -0.57px"><u>1</u></i><i style="margin:0 -0.31px 0 -0.31px">.</i><i style="margin:0 0.06px 0 0.06px">2</i><i style="margin:0 0.33px 0 0.33px">0</i><i style="margin:0 -1.23px 0 -1.23px"><b>%</b></i></span></div>
<div class="t g" id="c11_8" style="left:1016.00px;top:396px"><span class="s" style="font-size:15.58px;transform:scaleX(1.1053)"><i style="margin:0 -2.67px 0 -0.57px"><u>1</u></i><i style="margin:0 0.06px 0 0.06px">3</i><i style="margin:0 0.06px 0 0.06px">4</i></span></div>
<div class="t g" id="c13_0" style="left:6.00px;top:455px"><span class="s" style="font-size:15.58px;transform:scaleX(0.9867)">Barbara Joseph, Paul &amp; Matt Jones</span></div>
<div class="t g" id="c13_1" style="left:262.00px;top:455px"><span class="s" style="font-size:15.58px;transform:scaleX(1.1053)"><i style="margin:0 -2.67px 0 -0.57px"><u>1</u></i><i style="margin:0 0.06px 0 0.06px">5</i></span></div>
<div class="t g" id="c13_2" style="left:360.00px;top:455px"><span class="s" style="font-size:15.58px;transform:scaleX(1.1053)"><i style="margin:0 0.06px 0 0.06px">7</i></span></div>
<div class="t g" id="c13_3" style="left:461.00px;top:455px"><span class="s" style="font-size:15.58px;transform:scaleX(1.1053)"><i style="margin:0 0.06px 0 0.06px">7</i></span></div>
<div class="t g" id="c13_4" style="left:568.00px;top:455px"><span class="s" style="font-size:15.58px;transform:scaleX(1.1053)"><i style="margin:0 0.06px 0 0.06px">7</i></span></div>
<div class="t g" id="c13_5" style="left:670.00px;top:455px"><span class="s" style="font-size:15.58px;transform:scaleX(1.1053)"><i style="margin:0 0.06px 0 0.06px">6</i></span></div>
<div class="t g" id="c13_6" style="left:771.00px;top:455px"><span class="s" style="font-size:15.58px;transform:scaleX(1.1053)"><i style="margin:0 0.19px 0 0.19px">$</i><i style="margin:0 0.06px 0 0.06px">3</i><i style="margin:0 0.06px 0 0.06px">6</i><i style="margin:0 0.06px 0 0.06px">7</i><i style="margin:0 -0.45px 0 -0.45px">,</i><i style="margin:0 0.06px 0 0.06px">5</i><i style="margin:0 0.06px 0 0.06px">9</i><i style="margin:0 0.06px 0 0.06px">5</i><i style="margin:0 -0.31px 0 -0.31px">.</i><i style="margin:0 0.33px 0 0.33px">0</i><i style="margin:0 0.33px 0 0.33px">0</i></span></div>
<div class="t g" id="c13_7" style="left:909.00px;top:455px"><span class="s" style="font-size:15.58px;transform:scaleX(1.1053)"><i style="margin:0 -2.67px 0 -0.57px"><u>1</u></i><i style="margin:0 0.06px 0 0.06px">7</i><i style="margin:0 -0.31px 0 -0.31px">.</i><i style="margin:0 0.06px 0 0.06px">4</i><i style="margin:0 0.33px 0 0.33px">0</i><i style="margin:0 -1.23px 0 -1.23px"><b>%</b></i></span></div>
<div class="t g" id="c13_8" style="left:1016.00px;top:455px"><span class="s" style="font-size:15.58px;transform:scaleX(1.1053)"><i style="margin:0 0.06px 0 0.06px">8</i><i style="margin:0 0.06px 0 0.06px">6</i></span></div>
<div class="t g" id="c15_0" style="left:6.00px;top:514px"><span class="s" style="font-size:15.58px;transform:scaleX(1.0043)">Clint Lundholm</span></div>
<div class="t g" id="c15_1" style="left:262.00px;top:514px"><span class="s" style="font-size:15.58px;transform:scaleX(1.1053)"><i style="margin:0 -2.67px 0 -0.57px"><u>1</u></i><i style="margin:0 0.06px 0 0.06px">3</i></span></div>
<div class="t g" id="c15_2" style="left:360.00px;top:514px"><span class="s" style="font-size:15.58px;transform:scaleX(1.1053)"><i style="margin:0 -2.67px 0 -0.57px"><u>1</u></i><i style="margin:0 0.06px 0 0.06px">4</i></span></div>
<div class="t g" id="c15_3" style="left:461.00px;top:514px"><span class="s" style="font-size:15.58px;transform:scaleX(1.1053)"><i style="margin:0 -2.67px 0 -0.57px"><u>1</u></i><i style="margin:0 0.06px 0 0.06px">2</i></span></div>
<div class="t g" id="c15_4" style="left:568.00px;top:514px"><span class="s" style="font-size:15.58px;transform:scaleX(1.1053)"><i style="margin:0 -2.67px 0 -0.57px"><u>1</u></i><i style="margin:0 0.06px 0 0.06px">3</i></span></div>
<div class="t g" id="c15_5" style="left:670.00px;top:514px"><span class="s" style="font-size:15.58px;transform:scaleX(1.1053)"><i style="margin:0 -2.67px 0 -0.57px"><u>1</u></i><i style="margin:0 -2.67px 0 -0.57px"><u>1</u></i></span></div>
<div class="t g" id="c15_6" style="left:771.00px;top:514px"><span class="s" style="font-size:15.58px;transform:scaleX(1.1053)"><i style="margin:0 0.19px 0 0.19px">$</i><i style="margin:0 0.06px 0 0.06px">3</i><i style="margin:0 -2.67px 0 -0.57px"><u>1</u></i><i style="margin:0 0.33px 0 0.33px">0</i><i style="margin:0 -0.45px 0 -0.45px">,</i><i style="margin:0 0.06px 0 0.06px">8</i><i style="margin:0 0.06px 0 0.06px">8</i><i style="margin:0 0.06px 0 0.06px">5</i><i style="margin:0 -0.31px 0 -0.31px">.</i><i style="margin:0 0.33px 0 0.33px">0</i><i style="margin:0 0.33px 0 0.33px">0</i></span></div>
<div class="t g" id="c15_7" style="left:909.00px;top:514px"><span class="s" style="font-size:15.58px;transform:scaleX(1.1053)"><i style="margin:0 -2.67px 0 -0.57px"><u>1</u></i><i style="margin:0 0.06px 0 0.06px">2</i><i style="margin:0 -0.31px 0 -0.31px">.</i><i style="margin:0 0.06px 0 0.06px">7</i><i style="margin:0 0.33px 0 0.33px">0</i><i style="margin:0 -1.23px 0 -1.23px"><b>%</b></i></span></div>
<div class="t g" id="c15_8" style="left:1016.00px;top:514px"><span class="s" style="font-size:15.58px;transform:scaleX(1.1053)"><i style="margin:0 -2.67px 0 -0.57px"><u>1</u></i><i style="margin:0 0.33px 0 0.33px">0</i><i style="margin:0 0.06px 0 0.06px">2</i></span></div>
<div class="t g" id="c17_0" style="left:6.00px;top:573px"><span class="s" style="font-size:15.58px;transform:scaleX(1.0123)">Nathan Doyle</span></div>
<div class="t g" id="c17_1" style="left:262.00px;top:573px"><span class="s" style="font-size:15.58px;transform:scaleX(1.1053)"><i style="margin:0 -2.67px 0 -0.57px"><u>1</u></i><i style="margin:0 0.06px 0 0.06px">2</i></span></div>
<div class="t g" id="c17_2" style="left:360.00px;top:573px"><span class="s" style="font-size:15.58px;transform:scaleX(1.1053)"><i style="margin:0 -2.67px 0 -0.57px"><u>1</u></i><i style="margin:0 0.33px 0 0.33px">0</i></span></div>
<div class="t g" id="c17_3" style="left:461.00px;top:573px"><span class="s" style="font-size:15.58px;transform:scaleX(1.1053)"><i style="margin:0 0.06px 0 0.06px">9</i><i style="margin:0 -0.53px 0 -0.53px">½</i></span></div>
<div class="t g" id="c17_4" style="left:568.00px;top:573px"><span class="s" style="font-size:15.58px;transform:scaleX(1.1053)"><i style="margin:0 0.06px 0 0.06px">6</i></span></div>
<div class="t g" id="c17_5" style="left:670.00px;top:573px"><span class="s" style="font-size:15.58px;transform:scaleX(1.1053)"><i style="margin:0 0.06px 0 0.06px">6</i></span></div>
<div class="t g" id="c17_6" style="left:771.00px;top:573px"><span class="s" style="font-size:15.58px;transform:scaleX(1.1053)"><i style="margin:0 0.19px 0 0.19px">$</i><i style="margin:0 0.06px 0 0.06px">7</i><i style="margin:0 0.33px 0 0.33px">0</i><i style="margin:0 0.06px 0 0.06px">7</i><i style="margin:0 -0.45px 0 -0.45px">,</i><i style="margin:0 0.33px 0 0.33px">0</i><i style="margin:0 -2.67px 0 -0.57px"><u>1</u></i><i style="margin:0 0.06px 0 0.06px">2</i><i style="margin:0 -0.31px 0 -0.31px">.</i><i style="margin:0 0.06px 0 0.06px">5</i><i style="margin:0 0.33px 0 0.33px">0</i></span></div>
<div class="t g" id="c17_7" style="left:909.00px;top:573px"><span class="s" style="font-size:15.58px;transform:scaleX(1.1053)"><i style="margin:0 -2.67px 0 -0.57px"><u>1</u></i><i style="margin:0 0.06px 0 0.06px">7</i><i style="margin:0 -0.31px 0 -0.31px">.</i><i style="margin:0 0.06px 0 0.06px">4</i><i style="margin:0 0.33px 0 0.33px">0</i><i style="margin:0 -1.23px 0 -1.23px"><b>%</b></i></span></div>
<div class="t g" id="c17_8" style="left:1016.00px;top:573px"><span class="s" style="font-size:15.58px;transform:scaleX(1.1053)"><i style="margin:0 0.06px 0 0.06px">6</i><i style="margin:0 0.06px 0 0.06px">9</i></span></div>
<div class="t g" id="c19_0" style="left:6.00px;top:632px"><span class="s" style="font-size:15.58px;transform:scaleX(1.0687)">Tony Ball</span></div>
<div class="t g" id="c19_1" style="left:262.00px;top:632px"><span class="s" style="font-size:15.58px;transform:scaleX(1.1053)"><i style="margin:0 -2.67px 0 -0.57px"><u>1</u></i><i style="margin:0 -2.67px 0 -0.57px"><u>1</u></i></span></div>
<div class="t g" id="c19_2" style="left:360.00px;top:632px"><span class="s" style="font-size:15.58px;transform:scaleX(1.1053)"><i style="margin:0 0.06px 0 0.06px">8</i></span></div>
<div class="t g" id="c19_3" style="left:461.00px;top:632px"><span class="s" style="font-size:15.58px;transform:scaleX(1.1053)"><i style="margin:0 0.06px 0 0.06px">8</i></span></div>
<div class="t g" id="c19_4" style="left:568.00px;top:632px"><span class="s" style="font-size:15.58px;transform:scaleX(1.1053)"><i style="margin:0 0.06px 0 0.06px">4</i></span></div>
<div class="t g" id="c19_5" style="left:670.00px;top:632px"><span class="s" style="font-size:15.58px;transform:scaleX(1.1053)"><i style="margin:0 0.06px 0 0.06px">7</i></span></div>
<div class="t g" id="c19_6" style="left:771.00px;top:632px"><span class="s" style="font-size:15.58px;transform:scaleX(1.1053)"><i style="margin:0 0.19px 0 0.19px">$</i><i style="margin:0 0.06px 0 0.06px">3</i><i style="margin:0 -2.67px 0 -0.57px"><u>1</u></i><i style="margin:0 0.06px 0 0.06px">6</i><i style="margin:0 -0.45px 0 -0.45px">,</i><i style="margin:0 0.06px 0 0.06px">8</i><i style="margin:0 0.33px 0 0.33px">0</i><i style="margin:0 0.33px 0 0.33px">0</i><i style="margin:0 -0.31px 0 -0.31px">.</i><i style="margin:0 0.33px 0 0.33px">0</i><i style="margin:0 0.33px 0 0.33px">0</i></span></div>
<div class="t g" id="c19_7" style="left:909.00px;top:632px"><span class="s" style="font-size:15.58px;transform:scaleX(1.1053)"><i style="margin:0 -2.67px 0 -0.57px"><u>1</u></i><i style="margin:0 0.06px 0 0.06px">3</i><i style="margin:0 -0.31px 0 -0.31px">.</i><i style="margin:0 0.06px 0 0.06px">6</i><i style="margin:0 0.33px 0 0.33px">0</i><i style="margin:0 -1.23px 0 -1.23px"><b>%</b></i></span></div>
<div class="t g" id="c19_8" style="left:1016.00px;top:632px"><span class="s" style="font-size:15.58px;transform:scaleX(1.1053)"><i style="margin:0 0.06px 0 0.06px">8</i><i style="margin:0 -2.67px 0 -0.57px"><u>1</u></i></span></div>
</div>
</body></html>
